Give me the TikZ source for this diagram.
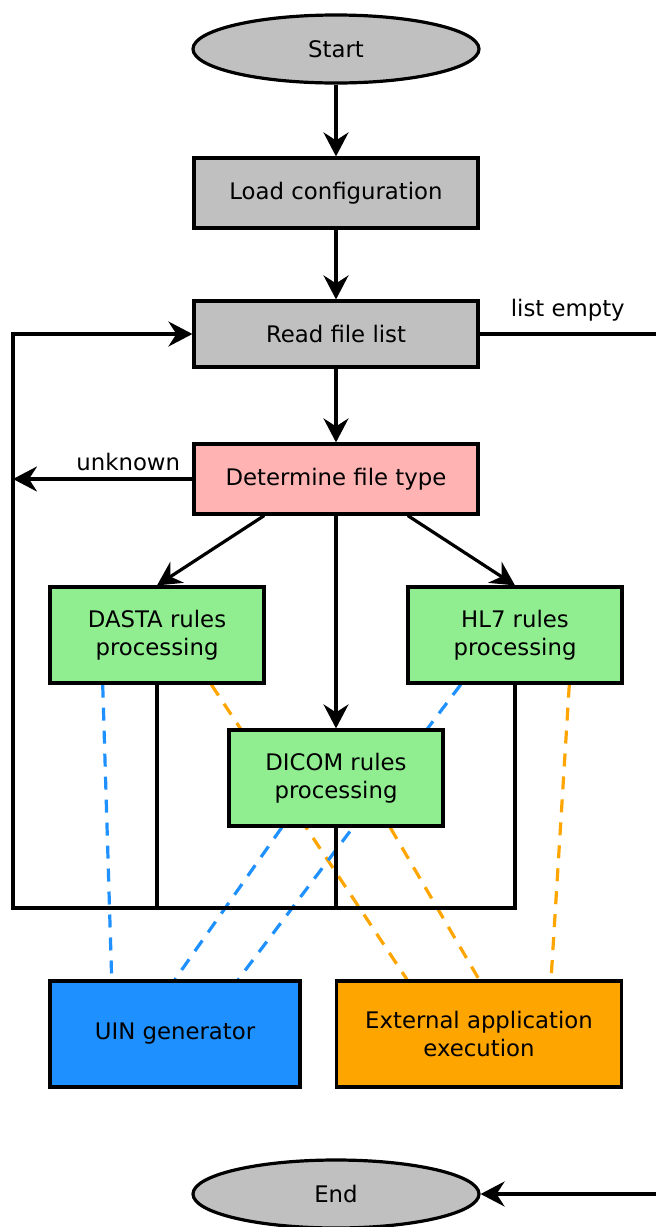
\documentclass[tikz,border=0pt]{standalone}
\usepackage{fontspec}
\setmainfont{DejaVu Sans}
\usetikzlibrary{shapes.geometric,arrows.meta,calc,backgrounds}
\definecolor{boxgray}{RGB}{192,192,192}
\definecolor{boxpink}{RGB}{255,179,179}
\definecolor{boxgreen}{RGB}{144,238,144}
\definecolor{boxblue}{RGB}{30,144,255}
\definecolor{boxorange}{RGB}{255,165,0}
\tikzset{
  base/.style={draw=black, line width=3.2pt, align=center, inner sep=0pt,
    font=\fontsize{22.8}{28.5}\selectfont},
  procbox/.style={base, rectangle, minimum width=284pt, minimum height=70pt},
  rulebox/.style={base, rectangle, fill=boxgreen, minimum width=214pt, minimum height=96pt},
  term/.style={base, ellipse, fill=boxgray, minimum width=286pt, minimum height=68pt},
  conn/.style={line width=3.2pt, black},
  arr/.style={conn, -{Stealth[length=24pt,width=25pt,inset=8pt]}},
  bluedash/.style={line width=3.2pt, boxblue, dash pattern=on 13pt off 10pt},
  orangedash/.style={line width=3.2pt, boxorange, dash pattern=on 13pt off 10pt},
  lbl/.style={font=\fontsize{22.8}{28.5}\selectfont, inner sep=0pt},
}
\begin{document}
\begin{tikzpicture}[x=1pt,y=-1pt]
\useasboundingbox (0,0) rectangle (656,1227);
\node[term] (start) at (336,49) {Start};
\node[procbox, fill=boxgray] (load) at (336,193) {Load configuration};
\node[procbox, fill=boxgray, minimum height=66pt] (read) at (336,334) {Read file list};
\node[procbox, fill=boxpink] (det) at (336,479) {Determine file type};
\node[rulebox] (dasta) at (157,635) {DASTA rules\\processing};
\node[rulebox] (hl7) at (515,635) {HL7 rules\\processing};
\node[rulebox] (dicom) at (336,778) {DICOM rules\\processing};
\node[base, rectangle, fill=boxblue, minimum width=250pt, minimum height=106pt] (uin) at (175,1034) {UIN generator};
\node[base, rectangle, fill=boxorange, minimum width=285pt, minimum height=106pt] (ext) at (479,1034) {External application\\execution};
\node[term] (end) at (336,1194) {End};

\coordinate (loopL) at (13,908);
\coordinate (edge) at (656,0);

% dashed links (behind boxes)
\begin{scope}[on background layer]
\draw[bluedash] ($(dasta.south west)!0.25!(dasta.south east)$) -- ($(uin.north west)!0.25!(uin.north east)$);
\draw[orangedash] ($(dasta.south west)!0.75!(dasta.south east)$) -- ($(ext.north west)!0.25!(ext.north east)$);
\draw[bluedash] ($(hl7.south west)!0.25!(hl7.south east)$) -- ($(uin.north west)!0.75!(uin.north east)$);
\draw[orangedash] ($(hl7.south west)!0.75!(hl7.south east)$) -- ($(ext.north west)!0.75!(ext.north east)$);
\draw[bluedash] ($(dicom.south west)!0.25!(dicom.south east)$) -- (uin.north);
\draw[orangedash] ($(dicom.south west)!0.75!(dicom.south east)$) -- (ext.north);
\end{scope}

\draw[arr] (start) -- (load);
\draw[arr] (load) -- (read);
\draw[arr] (read) -- (det);
\draw[arr] ($(det.south west)!0.25!(det.south east)$) -- (dasta.north);
\draw[arr] ($(det.south west)!0.75!(det.south east)$) -- (hl7.north);
\draw[arr] (det) -- (dicom);

\draw[arr] (det.west) -- (det.west -| loopL) node[lbl, pos=0.06, anchor=south east, yshift=7pt] {unknown};
\draw[conn] (dasta.south) -- (dasta.south |- loopL);
\draw[conn] (dicom.south) -- (dicom.south |- loopL);
\draw[arr] (hl7.south) |- (loopL) |- (read.west);

\draw[conn] (read.east) -- (read.east -| edge) node[lbl, midway, above=11pt] {list empty};
\draw[arr] (end.east -| edge) -- (end.east);
\end{tikzpicture}
\end{document}
